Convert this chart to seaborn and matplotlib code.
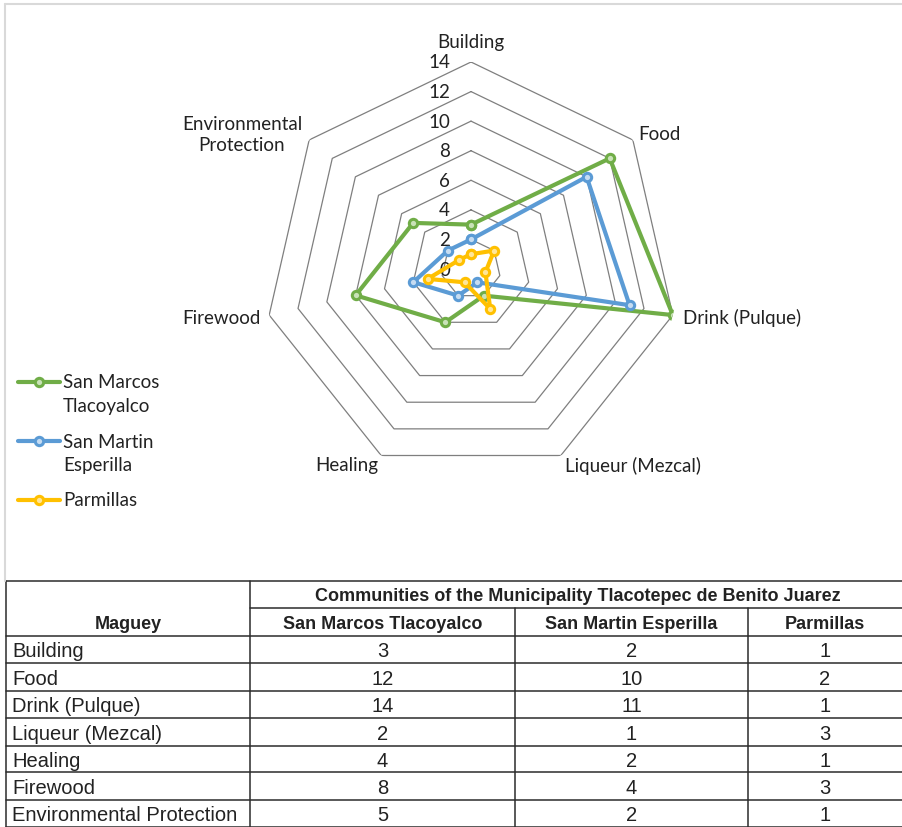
import matplotlib
matplotlib.use('Agg')
import matplotlib.pyplot as plt
import seaborn as sns
import numpy as np
import pandas as pd
from matplotlib.lines import Line2D
from matplotlib import font_manager

categories = ['Building', 'Food', 'Drink (Pulque)', 'Liqueur (Mezcal)',
              'Healing', 'Firewood', 'Environmental Protection']
axis_labels = ['Building', 'Food', 'Drink (Pulque)', 'Liqueur (Mezcal)',
               'Healing', 'Firewood', 'Environmental\nProtection']
communities = ['San Marcos Tlacoyalco', 'San Martin Esperilla', 'Parmillas']
legend_labels = ['San Marcos\nTlacoyalco', 'San Martin\nEsperilla', 'Parmillas']
san_marcos = [3, 12, 14, 2, 4, 8, 5]
san_martin = [2, 10, 11, 1, 2, 4, 2]
parmillas = [1, 2, 1, 3, 1, 3, 1]
r_ticks = [0, 2, 4, 6, 8, 10, 12, 14]
table_title = 'Communities of the Municipality Tlacotepec de Benito Juarez'
row_header = 'Maguey'

colors = ['#70AD47', '#5B9BD5', '#FFC000']
light = ['#c9e2b8', '#c6dcf1', '#ffe699']


def has_font(name):
    try:
        font_manager.findfont(font_manager.FontProperties(family=name), fallback_to_default=False)
        return True
    except Exception:
        return False


sns.set_style('white')
chart_font = ['Lato', 'DejaVu Sans']
plt.rcParams['font.family'] = chart_font
table_font = ['Liberation Sans', 'DejaVu Sans']
narrow_font = ['Liberation Sans Narrow', 'Liberation Sans', 'DejaVu Sans'] if has_font('Liberation Sans Narrow') else table_font

W, H = 902, 828
fig = plt.figure(figsize=(W / 100, H / 100), dpi=100)

# long-form frame for seaborn, closing each polygon
n = len(categories)
theta = np.arange(n) * 2 * np.pi / n
rows = []
for name, vals in zip(communities, [san_marcos, san_martin, parmillas]):
    for t, v in zip(list(theta) + [2 * np.pi], list(vals) + [vals[0]]):
        rows.append({'theta': t, 'value': v, 'community': name})
df = pd.DataFrame(rows)

# radar axes: centre (471, 270) px, radius 207 px
cx, cy, R = 471, 270, 207
ax = fig.add_axes([(cx - R) / W, 1 - (cy + R) / H, 2 * R / W, 2 * R / H], projection='polar')
ax.set_theta_zero_location('N')
ax.set_theta_direction(-1)
ax.set_ylim(0, 14)
ax.grid(False)
ax.set_xticks([])
ax.set_yticks([])
ax.spines['polar'].set_visible(False)
ax.patch.set_alpha(0)

# heptagon gridlines
tc = list(theta) + [2 * np.pi]
for r in r_ticks[1:]:
    ax.plot(tc, [r] * len(tc), color='#7f7f7f', lw=0.9, zorder=1)

for i, name in enumerate(communities):
    sns.lineplot(data=df[df['community'] == name], x='theta', y='value', sort=False,
                 estimator=None, color=colors[i], lw=3, marker='o', markersize=6,
                 markeredgewidth=2.2, markeredgecolor=colors[i],
                 markerfacecolor=light[i], ax=ax, zorder=3 + i)
ax.set_xlabel('')
ax.set_ylabel('')

for r in r_ticks:
    ax.annotate(str(r), xy=(0, r), xytext=(-21, 0), textcoords='offset pixels',
                ha='right', va='center', fontsize=13.5, color='#222222')

label_pos = [((0, 12), 'center', 'bottom'), ((5, 6), 'left', 'center'),
             ((10, -2), 'left', 'center'), ((4, -9), 'left', 'center'),
             ((-3, -9), 'right', 'center'), ((-9, -2), 'right', 'center'),
             ((-7, 6), 'right', 'center')]
for t, lab, (off, ha, va) in zip(theta, axis_labels, label_pos):
    ax.annotate(lab, xy=(t, 14), xytext=off, textcoords='offset pixels',
                ha=ha, va=va, fontsize=13.5, color='#222222',
                multialignment='center', linespacing=1.3)

# legend drawn by hand so the handle sits on the first text line
ly = [383, 442, 501]
for i, lab in enumerate(legend_labels):
    y = 1 - ly[i] / H
    fig.add_artist(Line2D([18 / W, 60 / W], [y, y], color=colors[i], lw=3))
    fig.add_artist(Line2D([39 / W], [y], color=colors[i], marker='o', markersize=6,
                          markeredgewidth=2.2, markerfacecolor=light[i]))
    for j, line in enumerate(lab.split('\n')):
        fig.text(63 / W, 1 - (ly[i] + 24 * j) / H, line, ha='left', va='center',
                 fontsize=13.5, color='#222222')

# chart-area border (left and top visible)
fig.add_artist(Line2D([5 / W, 5 / W], [1 - 5 / H, 1 - 582 / H], color='#d9d9d9', lw=1.5))
fig.add_artist(Line2D([5 / W, 1], [1 - 5 / H, 1 - 5 / H], color='#d9d9d9', lw=1.5))

# table in pixel coordinates
tax = fig.add_axes([0, 0, 1, 250 / H])
tax.set_xlim(0, W)
tax.set_ylim(828, 578)
tax.axis('off')
lc = '#2b2b2b'
lw = 1.1
col_x = [6, 250, 515, 748, 902]
header_bottom = 637
row_bottoms = [664, 692, 719, 747, 773, 801, 828]
tax.plot([6, 902], [582.5, 582.5], color=lc, lw=lw)
tax.plot([250, 902], [609, 609], color=lc, lw=lw)
tax.plot([6, 902], [header_bottom, header_bottom], color=lc, lw=lw)
for y in row_bottoms:
    tax.plot([6, 902], [y, y], color=lc, lw=lw)
tax.plot([6, 6], [582.5, 828], color=lc, lw=lw)
tax.plot([250, 250], [582.5, 828], color=lc, lw=lw)
tax.plot([515, 515], [609, 828], color=lc, lw=lw)
tax.plot([748, 748], [609, 828], color=lc, lw=lw)

tax.text(578, 597, table_title, ha='center', va='center', fontsize=13,
         fontweight='bold', family=narrow_font, color='#222222')
tax.text(128, 625, row_header, ha='center', va='center', fontsize=13,
         fontweight='bold', family=narrow_font, color='#222222')
for k, name in enumerate(communities):
    tax.text((col_x[k + 1] + col_x[k + 2]) / 2, 625, name, ha='center', va='center',
             fontsize=13, fontweight='bold', family=narrow_font, color='#222222')

tops = [header_bottom] + row_bottoms[:-1]
for r, cat in enumerate(categories):
    yc = (tops[r] + row_bottoms[r]) / 2 + 1.5
    tax.text(12, yc, cat, ha='left', va='center', fontsize=14.5, family=table_font, color='#222222')
    for k, vals in enumerate([san_marcos, san_martin, parmillas]):
        tax.text((col_x[k + 1] + col_x[k + 2]) / 2, yc, str(vals[r]), ha='center',
                 va='center', fontsize=14.5, family=narrow_font, color='#222222')

fig.savefig('out.png', dpi=100, facecolor='white')
plt.close(fig)
